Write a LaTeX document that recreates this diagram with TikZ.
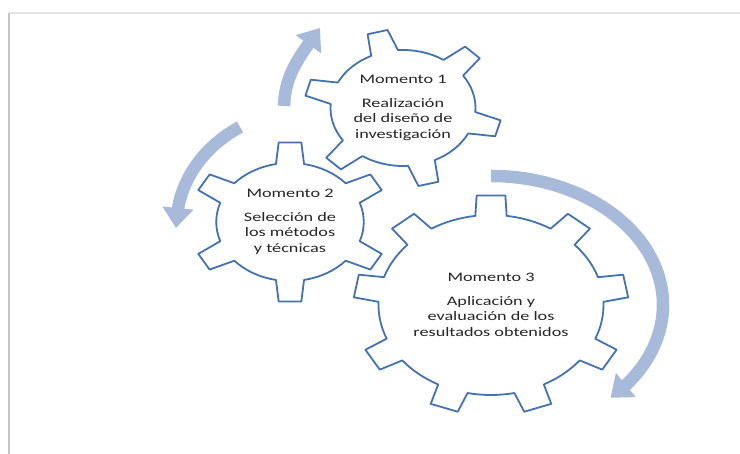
\documentclass[tikz,border=0pt]{standalone}
\usepackage{fontspec}
\newfontfamily\gearfont[FakeStretch=1.4,Ligatures=NoCommon]{Carlito}
\usetikzlibrary{arrows.meta,bending}
\definecolor{gearblue}{HTML}{4472B0}
\definecolor{bandblue}{HTML}{A7BADA}
\definecolor{txtgray}{HTML}{262626}
\definecolor{framegray}{HTML}{C4C4C4}
\definecolor{framelight}{HTML}{E4E4E4}
% #1 centre, #2 teeth, #3 outer r, #4 inner r, #5 tip half-angle, #6 base half-angle, #7 first tooth angle
\newcommand\drawgear[7]{%
  \begin{scope}[shift={(#1)}, xscale=1.25]
    \draw[gearline] ({#7+#6}:#4pt)
      \foreach \i in {1,...,#2}{
        arc[start angle={#7+(\i-1)*360/#2+#6}, end angle={#7+\i*360/#2-#6}, radius=#4pt]
        -- ({#7+\i*360/#2-#5}:#3pt) -- ({#7+\i*360/#2+#5}:#3pt) -- ({#7+\i*360/#2+#6}:#4pt)
      } -- cycle;
  \end{scope}}
\begin{document}
\begin{tikzpicture}[x=1pt,y=1pt,
  gearline/.style={draw=gearblue, line width=1.8pt, fill=white, line join=round},
  band/.style={draw=bandblue, line width=12.5pt, -{Triangle[width=30pt,length=20pt]}},
  gtext/.style={font=\gearfont\fontsize{13}{15.5}\selectfont, align=center, text=txtgray}]
\useasboundingbox (0,0) rectangle (740,454);
% frame
\draw[framelight, line width=1.5pt] (9,441) -- (740,441);
\draw[framegray, line width=2pt] (9,441) -- (9,0);
% arrow end points
\coordinate (A1) at (284,348);
\coordinate (A2) at (320,426);
\coordinate (B1) at (240,327);
\coordinate (B2) at (176,226);
\coordinate (C1) at (491,278);
% arrows
\draw[band] (A1) to[out=88,in=235] (A2);
\draw[band] (B1) .. controls (212,312) and (177,280) .. (B2);
\draw[band] (C1) arc[start angle=90, end angle=-46, x radius=172pt, y radius=129pt];
% gears
\drawgear{403,346}{6}{79}{58}{6}{11}{105}
\drawgear{290,232}{6}{80}{59}{6.5}{11}{90}
\drawgear{491,149}{9}{110}{90}{6}{8}{90}
% texts
\node[gtext] (g1) at (403,346) {Momento 1\\[8pt]Realización\\del diseño de\\investigación};
\node[gtext] (g2) at (290,232) {Momento 2\\[8pt]Selección de\\los métodos\\y técnicas};
\node[gtext] (g3) at (491,149) {Momento 3\\[8pt]Aplicación y\\evaluación de los\\resultados obtenidos};
\end{tikzpicture}
\end{document}
